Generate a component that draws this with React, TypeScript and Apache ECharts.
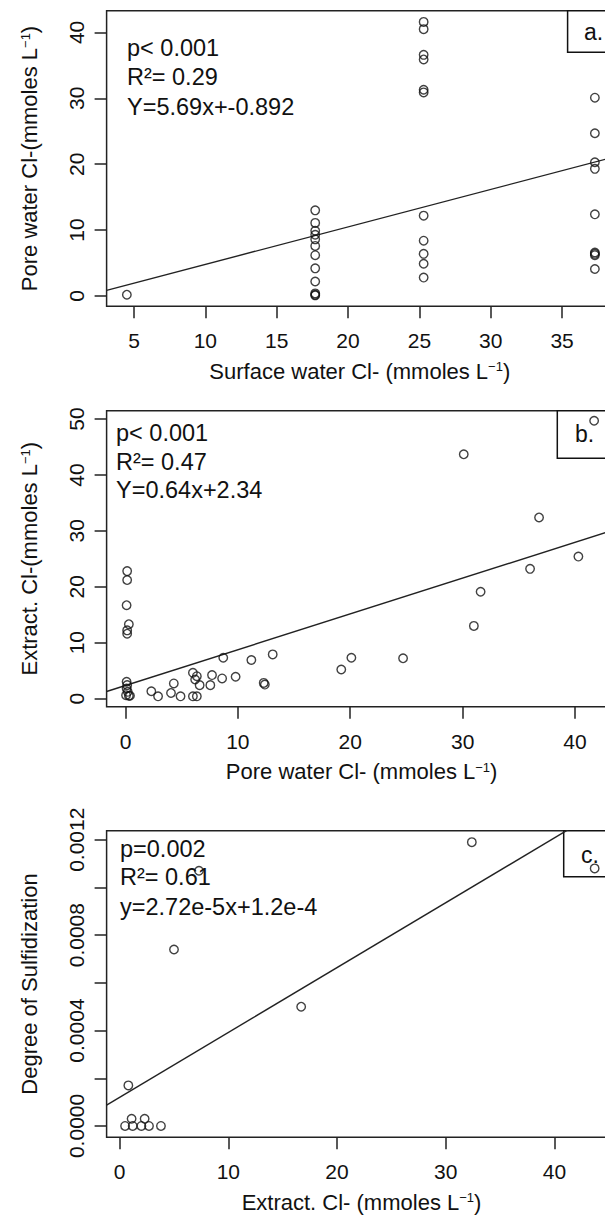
import React, { useEffect, useRef } from 'react';
import * as echarts from 'echarts';

const FONT = '"Liberation Sans", Arial, Helvetica, sans-serif';
const INK = '#111';

// ---------- Panel a: Surface water Cl- vs Pore water Cl- ----------
const panelAPoints: [number, number][] = [
  [4.5, 0.2],
  [17.7, 13.0], [17.7, 11.1], [17.7, 9.9], [17.7, 9.3], [17.7, 8.6], [17.7, 7.6],
  [17.7, 6.2], [17.7, 4.2], [17.7, 2.2], [17.7, 0.4], [17.7, 0.2], [17.7, 0.1],
  [25.3, 41.6], [25.3, 40.5], [25.3, 36.6], [25.3, 35.9], [25.3, 31.3], [25.3, 30.9],
  [25.3, 12.2], [25.3, 8.4], [25.3, 6.4], [25.3, 4.9], [25.3, 2.8],
  [37.3, 30.1], [37.3, 24.7], [37.3, 20.3], [37.3, 19.3], [37.3, 12.4],
  [37.3, 6.6], [37.3, 6.4], [37.3, 6.2], [37.3, 4.1],
];
const panelAXRange = [3.08, 38.57];
const panelAYRange = [-1.56, 43.3];
const panelAXTicks = [5, 10, 15, 20, 25, 30, 35];
const panelAYTicks = [0, 10, 20, 30, 40];
const panelALine = { slope: 0.569, intercept: -0.892 };
const panelAStats = ['p< 0.001', 'R\u00B2= 0.29', 'Y=5.69x+-0.892'];

// ---------- Panel b: Pore water Cl- vs Extract. Cl- ----------
const panelBPoints: [number, number][] = [
  [0.15, 22.8], [0.15, 21.2], [0.1, 16.7], [0.3, 13.3], [0.15, 12.2], [0.15, 11.6],
  [0.1, 3.0], [0.15, 2.4], [0.1, 1.8], [0.2, 1.2], [0.05, 0.6], [0.3, 0.5], [0.4, 0.5],
  [2.3, 1.3], [2.9, 0.4], [4.05, 1.0], [4.3, 2.7], [4.9, 0.4], [6.0, 0.4], [6.35, 0.4],
  [6.0, 4.6], [6.2, 3.4], [6.35, 4.0], [6.6, 2.4], [7.55, 2.4], [7.7, 4.2], [8.6, 3.6],
  [8.7, 7.3], [9.8, 3.9], [11.2, 6.9], [12.3, 2.8], [12.4, 2.5], [13.1, 7.9],
  [19.2, 5.2], [20.1, 7.3], [24.7, 7.2], [30.1, 43.7], [31.0, 13.0], [31.6, 19.1],
  [36.0, 23.2], [36.8, 32.4], [40.3, 25.4], [41.7, 49.7],
];
const panelBXRange = [-1.68, 43.7];
const panelBYRange = [-1.46, 51.5];
const panelBXTicks = [0, 10, 20, 30, 40];
const panelBYTicks = [0, 10, 20, 30, 40, 50];
const panelBLine = { slope: 0.64, intercept: 2.34 };
const panelBStats = ['p< 0.001', 'R\u00B2= 0.47', 'Y=0.64x+2.34'];

// ---------- Panel c: Extract. Cl- vs Degree of Sulfidization ----------
const panelCPoints: [number, number][] = [
  [0.5, 0], [1.2, 0], [2.0, 0], [2.7, 0], [3.8, 0], [1.1, 0.00003], [2.3, 0.00003],
  [0.8, 0.00017], [5.0, 0.00074], [7.3, 0.00107], [16.7, 0.0005], [32.4, 0.00119],
  [43.7, 0.00108],
];
const panelCXRange = [-1.2, 45.7];
const panelCYRange = [-0.0000476, 0.001238];
const panelCXTicks = [0, 10, 20, 30, 40];
const panelCYTicks = [0, 0.0002, 0.0004, 0.0006, 0.0008, 0.001, 0.0012];
const panelCYLabels = [0, 0.0004, 0.0008, 0.0012];
const panelCLine = { slope: 0.0000272, intercept: 0.00012 };
const panelCStats = ['p=0.002', 'R\u00B2= 0.61', 'y=2.72e-5x+1.2e-4'];

const supTitle = (before: string, after: string) => `{t|${before}}{s|\u22121}{t|${after}}`;

const titleRich = {
  t: { fontSize: 22, fontFamily: FONT, color: INK },
  s: { fontSize: 13, fontFamily: FONT, color: INK, verticalAlign: 'top' },
};

const CHART_W = 640;
const CHART_H = 1217;

export default function App() {
  const ref = useRef<HTMLDivElement>(null);

  useEffect(() => {
    if (!ref.current) return;
    const chart = echarts.init(ref.current, undefined, { renderer: 'svg' });

    const grids = [
      { left: 106.6, top: 10.7, width: 506.4, height: 295.6 },
      { left: 106.6, top: 410.7, width: 510, height: 296 },
      { left: 106.6, top: 830.7, width: 509.8, height: 306.6 },
    ].map((g) => ({
      ...g,
      show: true,
      borderColor: '#222',
      borderWidth: 1.5,
      backgroundColor: 'transparent',
      containLabel: false,
    }));

    const xAxis = (i: number, range: number[], ticks: number[], name: string) => ({
      type: 'value',
      gridIndex: i,
      min: range[0],
      max: range[1],
      splitLine: { show: false },
      axisLine: { show: false, onZero: false },
      axisTick: { show: true, length: 12, customValues: ticks, lineStyle: { color: '#222', width: 1.5 } },
      axisLabel: { show: true, customValues: ticks, margin: 24, fontSize: 21, fontFamily: FONT, color: INK },
      name,
      nameLocation: 'middle',
      nameGap: 54,
      nameTextStyle: { rich: titleRich },
    });

    const yAxis = (
      i: number,
      range: number[],
      ticks: number[],
      labels: number[],
      name: string,
      fmt?: (v: number) => string,
    ) => ({
      type: 'value',
      gridIndex: i,
      min: range[0],
      max: range[1],
      splitLine: { show: false },
      axisLine: { show: false, onZero: false },
      axisTick: { show: true, length: 12, customValues: ticks, lineStyle: { color: '#222', width: 1.5 } },
      axisLabel: {
        show: true,
        customValues: labels,
        rotate: 90,
        margin: 20,
        align: 'center',
        verticalAlign: 'bottom',
        fontSize: 21,
        fontFamily: FONT,
        color: INK,
        formatter: fmt,
      },
      name,
      nameLocation: 'middle',
      nameRotate: 90,
      nameGap: 66,
      nameMoveOverlap: false,
      nameTextStyle: { rich: titleRich, fontSize: 22, fontFamily: FONT, color: INK },
    });

    const scatter = (i: number, data: [number, number][]) => ({
      type: 'scatter',
      xAxisIndex: i,
      yAxisIndex: i,
      data,
      symbol: 'circle',
      symbolSize: 8.5,
      z: 5,
      itemStyle: { color: 'rgba(0,0,0,0)', borderColor: '#111', borderWidth: 1.4 },
      silent: true,
    });

    const regLine = (i: number, range: number[], ln: { slope: number; intercept: number }) => ({
      type: 'line',
      xAxisIndex: i,
      yAxisIndex: i,
      data: [
        [range[0], ln.slope * range[0] + ln.intercept],
        [range[1], ln.slope * range[1] + ln.intercept],
      ],
      symbol: 'none',
      clip: true,
      z: 4,
      lineStyle: { color: '#222', width: 1.4 },
      silent: true,
    });

    const statsText = (lines: string[], x: number, ys: number[]) =>
      lines.map((txt, k) => ({
        type: 'text',
        x,
        y: ys[k],
        z: 10,
        style: {
          text: txt,
          fontSize: 23.5,
          fontFamily: FONT,
          fill: INK,
          verticalAlign: 'middle',
          align: 'left',
        },
      }));

    const labelBox = (rx: number, ry: number, rw: number, rh: number, txt: string, tx: number, ty: number) => [
      {
        type: 'rect',
        z: 1,
        shape: { x: rx, y: ry, width: rw, height: rh },
        style: { fill: '#fff', stroke: '#111', lineWidth: 1.5 },
      },
      {
        type: 'text',
        z: 2,
        x: tx,
        y: ty,
        style: { text: txt, fontSize: 23, fontFamily: FONT, fill: INK, verticalAlign: 'middle', align: 'left' },
      },
    ];

    chart.setOption({
      animation: false,
      backgroundColor: '#fff',
      grid: grids,
      xAxis: [
        xAxis(0, panelAXRange, panelAXTicks, supTitle('Surface water Cl- (mmoles L', ')')),
        xAxis(1, panelBXRange, panelBXTicks, supTitle('Pore water Cl- (mmoles L', ')')),
        xAxis(2, panelCXRange, panelCXTicks, supTitle('Extract. Cl- (mmoles L', ')')),
      ],
      yAxis: [
        yAxis(0, panelAYRange, panelAYTicks, panelAYTicks, supTitle('Pore water Cl-(mmoles L', ')')),
        yAxis(1, panelBYRange, panelBYTicks, panelBYTicks, supTitle('Extract. Cl-(mmoles L', ')')),
        yAxis(2, panelCYRange, panelCYTicks, panelCYLabels, '{t|Degree of Sulfidization}', (v: number) =>
          v.toFixed(4),
        ),
      ],
      series: [
        regLine(0, panelAXRange, panelALine),
        scatter(0, panelAPoints),
        regLine(1, panelBXRange, panelBLine),
        scatter(1, panelBPoints),
        regLine(2, panelCXRange, panelCLine),
        scatter(2, panelCPoints),
      ],
      graphic: [
        ...labelBox(567.6, 10.7, 70, 41.6, 'a.', 584, 32),
        ...labelBox(557.3, 410.7, 80, 47.6, 'b.', 575, 434),
        ...labelBox(563.7, 830.7, 70, 46, 'c.', 581, 855),
        ...statsText(panelAStats, 127, [48, 77, 107]),
        ...statsText(panelBStats, 116, [433, 462, 490]),
        ...statsText(panelCStats, 120, [849, 877, 907]),
      ],
    });

    return () => chart.dispose();
  }, []);

  return (
    <div
      style={{
        position: 'absolute',
        left: 0,
        top: 0,
        width: 605,
        height: 1217,
        overflow: 'hidden',
        background: '#fff',
      }}
    >
      <div ref={ref} style={{ width: CHART_W, height: CHART_H }} />
    </div>
  );
}
